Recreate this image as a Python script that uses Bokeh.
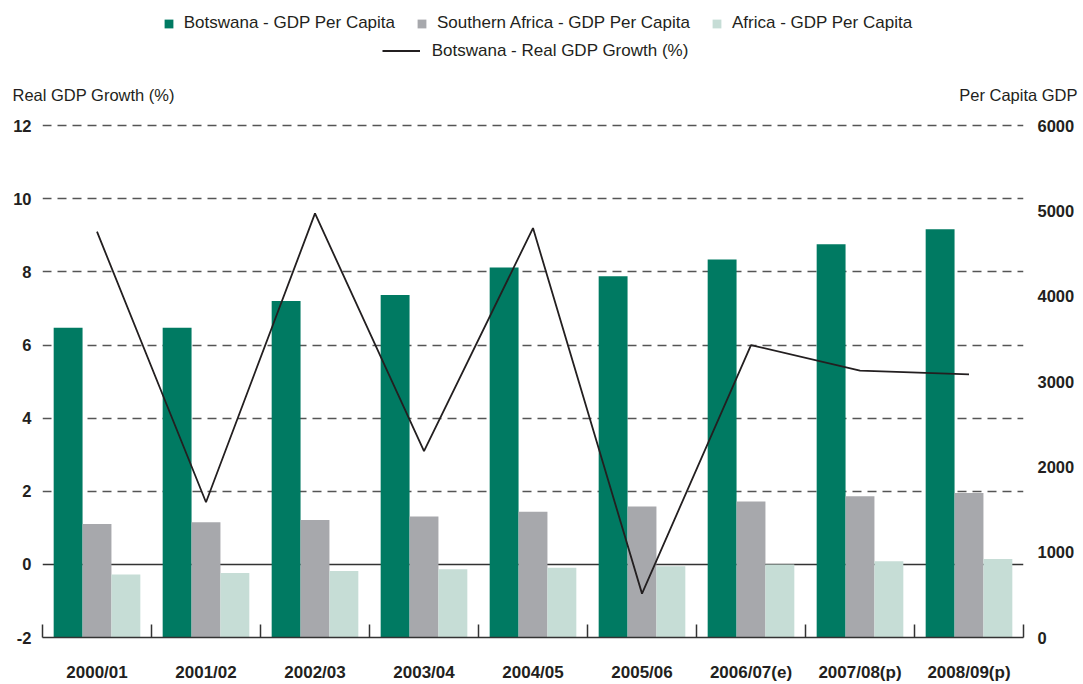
from bokeh.plotting import figure
from bokeh.layouts import column
from bokeh.models import (Range1d, LinearAxis, FixedTicker, Span, Legend, LegendItem,
                          Label, ColumnDataSource)
from bokeh.transform import dodge
from bokeh.embed import file_html
from bokeh.resources import INLINE

# ---- data ----
categories = ["2000/01", "2001/02", "2002/03", "2003/04", "2004/05",
              "2005/06", "2006/07(e)", "2007/08(p)", "2008/09(p)"]
botswana_gdp_pc = [3630, 3630, 3945, 4015, 4337, 4234, 4432, 4611, 4787]
southern_africa_gdp_pc = [1330, 1350, 1378, 1418, 1473, 1536, 1595, 1655, 1695]
africa_gdp_pc = [740, 757, 780, 799, 819, 834, 855, 895, 920]
botswana_real_growth = [9.1, 1.7, 9.6, 3.1, 9.2, -0.8, 6.0, 5.3, 5.2]
left_ticks = [-2, 0, 2, 4, 6, 8, 10, 12]
right_ticks = [0, 1000, 2000, 3000, 4000, 5000, 6000]
series_names = ["Botswana - GDP Per Capita", "Southern Africa - GDP Per Capita",
                "Africa - GDP Per Capita", "Botswana - Real GDP Growth (%)"]
left_title = "Real GDP Growth (%)"
right_title = "Per Capita GDP"

TXT = "#231f20"
FONT = "Liberation Sans"
C_BOTS = "#007a62"
C_SOUTH = "#a7a8ac"
C_AFR = "#c6ddd6"

W, H = 1083, 684
HEAD_H = 110
NAN = float("nan")

n = len(categories)
xc = [i + 0.5 for i in range(n)]
src = ColumnDataSource(dict(x=xc, cat=categories, bots=botswana_gdp_pc,
                            south=southern_africa_gdp_pc, afr=africa_gdp_pc,
                            growth=botswana_real_growth))

# ================= main chart =================
top_pad = 0.06   # tiny headroom so the dashed line at 12 is not clipped
p = figure(width=W, height=H - HEAD_H, x_range=Range1d(0, n),
           y_range=Range1d(-2, 12 + top_pad),
           output_backend="svg", toolbar_location=None, title=None,
           min_border_left=42, min_border_right=60, min_border_top=13,
           min_border_bottom=47)
p.outline_line_color = None
p.frame_align = False
p.extra_y_ranges = {"gdp": Range1d(0, 6000 * (14 + top_pad) / 14)}

p.xgrid.visible = False
p.ygrid.ticker = FixedTicker(ticks=[2, 4, 6, 8, 10, 12])
p.ygrid.grid_line_color = "#555555"
p.ygrid.grid_line_width = 1.5
p.ygrid.grid_line_dash = "9 6"
p.add_layout(Span(location=0, dimension="width", line_color="#333333",
                  line_width=1.5, level="underlay"))

w = 0.265
p.vbar(x=dodge("x", -0.265, range=p.x_range), top="bots", bottom=0, width=w,
       source=src, y_range_name="gdp", fill_color=C_BOTS, line_color=None)
p.vbar(x=dodge("x", 0.0, range=p.x_range), top="south", bottom=0, width=w,
       source=src, y_range_name="gdp", fill_color=C_SOUTH, line_color=None)
p.vbar(x=dodge("x", 0.265, range=p.x_range), top="afr", bottom=0, width=w,
       source=src, y_range_name="gdp", fill_color=C_AFR, line_color=None)
p.line(x="x", y="growth", source=src, line_color=TXT, line_width=1.8)


def style_y(ax, standoff):
    ax.axis_line_color = None
    ax.major_tick_line_color = None
    ax.minor_tick_line_color = None
    ax.major_tick_in = 0
    ax.major_tick_out = 0
    ax.minor_tick_in = 0
    ax.minor_tick_out = 0
    ax.major_label_standoff = standoff
    ax.major_label_text_font = FONT
    ax.major_label_text_font_size = "16.5px"
    ax.major_label_text_font_style = "bold"
    ax.major_label_text_color = TXT


ly = p.yaxis[0]
ly.ticker = FixedTicker(ticks=left_ticks)
ly.major_label_overrides = {t: str(t) for t in left_ticks}
style_y(ly, 11)

ry = LinearAxis(y_range_name="gdp", ticker=FixedTicker(ticks=right_ticks))
style_y(ry, 14)
p.add_layout(ry, "right")

bx = p.xaxis[0]
bx.ticker = FixedTicker(ticks=xc, minor_ticks=list(range(n + 1)))
bx.major_label_overrides = {x: c for x, c in zip(xc, categories)}
bx.major_tick_in = 0
bx.major_tick_out = 0
bx.major_tick_line_color = None
bx.minor_tick_in = 13
bx.minor_tick_out = 0
bx.minor_tick_line_color = "#333333"
bx.minor_tick_line_width = 1.5
bx.axis_line_color = "#333333"
bx.axis_line_width = 1.5
bx.major_label_standoff = 25
bx.major_label_text_font = FONT
bx.major_label_text_font_size = "17px"
bx.major_label_text_font_style = "bold"
bx.major_label_text_color = TXT

# ================= header: legend + axis titles =================
h = figure(width=W, height=HEAD_H, x_range=Range1d(0, W), y_range=Range1d(HEAD_H, 0),
           output_backend="svg", toolbar_location=None, title=None,
           min_border=0, x_axis_location=None, y_axis_location=None)
h.outline_line_color = None
h.frame_align = False
h.xgrid.visible = False
h.ygrid.visible = False

# legend keys (no visible marks of their own)
k1 = h.vbar(x=[NAN], top=[NAN], width=1, fill_color=C_BOTS, line_color=None)
k2 = h.vbar(x=[NAN], top=[NAN], width=1, fill_color=C_SOUTH, line_color=None)
k3 = h.vbar(x=[NAN], top=[NAN], width=1, fill_color=C_AFR, line_color=None)
k4 = h.line(x=[NAN], y=[NAN], line_color=TXT, line_width=1.8)

common = dict(padding=0, margin=0, border_line_color=None, background_fill_alpha=0,
              label_text_font=FONT, label_text_color=TXT, label_text_font_size="17px",
              label_height=20, orientation="horizontal")
leg1 = Legend(items=[LegendItem(label=series_names[0], renderers=[k1]),
                     LegendItem(label=series_names[1], renderers=[k2]),
                     LegendItem(label=series_names[2], renderers=[k3])],
              location=(162.7, HEAD_H - 33), spacing=21, glyph_width=11,
              glyph_height=11, label_standoff=10, **common)
leg2 = Legend(items=[LegendItem(label=series_names[3], renderers=[k4])],
              location=(381.7, HEAD_H - 60.5), glyph_width=38, glyph_height=11,
              label_standoff=12, **common)
h.add_layout(leg1)
h.add_layout(leg2)

h.add_layout(Label(x=12, y=94, text=left_title, text_baseline="middle",
                   text_align="left", text_font=FONT, text_font_size="16.5px",
                   text_color=TXT))
h.add_layout(Label(x=1077, y=94, text=right_title, text_baseline="middle",
                   text_align="right", text_font=FONT, text_font_size="16.5px",
                   text_color=TXT))

layout = column(h, p, spacing=0)
open("out.html", "w").write(file_html(layout, INLINE))
